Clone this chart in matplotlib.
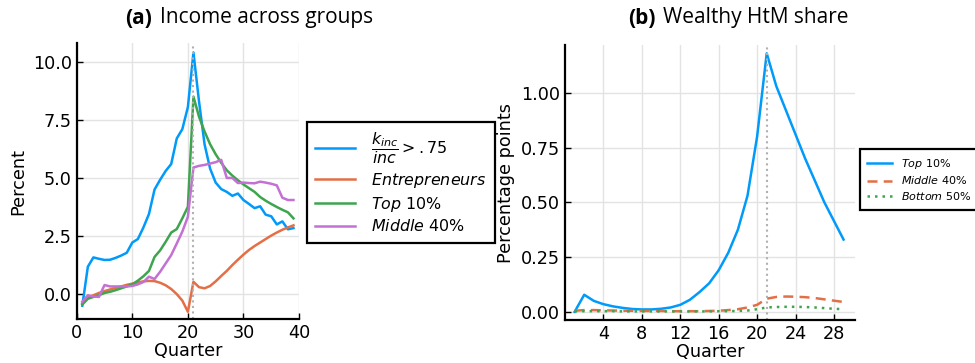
import matplotlib
matplotlib.use("Agg")
import matplotlib.pyplot as plt
import numpy as np

plt.rcParams['font.family'] = ['DejaVu Sans']
plt.rcParams['mathtext.fontset'] = 'dejavusans'

# (a) income responses by group, quarters 1..39
quarters_a = np.arange(1, 40)
k_share = [-0.5, 1.18, 1.58, 1.52, 1.47, 1.48, 1.56, 1.66, 1.78, 2.22, 2.37, 2.87, 3.45, 4.5, 4.92,
           5.3, 5.6, 6.7, 7.1, 8.05, 10.4, 8.3, 6.45, 5.4, 4.8, 4.52, 4.4, 4.23, 4.33, 4.05,
           3.88, 3.7, 3.78, 3.42, 3.35, 3.0, 3.13, 2.79, 2.84]
entrepreneurs = [-0.4, -0.15, -0.05, 0.05, 0.13, 0.2, 0.27, 0.33, 0.4, 0.45, 0.5, 0.55, 0.57,
                 0.56, 0.49, 0.38, 0.22, 0.0, -0.28, -0.76, 0.53, 0.3, 0.25, 0.35, 0.55, 0.78,
                 1.0, 1.25, 1.48, 1.7, 1.9, 2.07, 2.22, 2.37, 2.52, 2.65, 2.77, 2.87, 2.96]
top10_a = [-0.45, -0.2, -0.12, -0.05, 0.05, 0.1, 0.17, 0.25, 0.33, 0.42, 0.58, 0.77, 1.0, 1.6,
           1.88, 2.25, 2.65, 2.8, 3.26, 3.76, 8.5, 7.64, 7.0, 6.45, 6.02, 5.65, 5.33, 5.1,
           4.9, 4.72, 4.56, 4.4, 4.18, 4.02, 3.88, 3.75, 3.63, 3.52, 3.26]
middle40_a = [-0.33, -0.05, -0.1, -0.12, 0.39, 0.33, 0.33, 0.33, 0.33, 0.35, 0.42, 0.52, 0.75,
              0.65, 0.96, 1.32, 1.68, 2.18, 2.69, 3.33, 5.45, 5.52, 5.56, 5.62, 5.68, 5.78,
              5.0, 5.0, 4.78, 4.8, 4.78, 4.77, 4.84, 4.8, 4.75, 4.68, 4.15, 4.05, 4.05]

# (b) wealthy hand-to-mouth share, quarters 1..29
quarters_b = np.arange(1, 30)
top10_b = [0.0, 0.078, 0.05, 0.035, 0.025, 0.018, 0.013, 0.011, 0.011, 0.014, 0.02, 0.032,
           0.055, 0.09, 0.13, 0.19, 0.27, 0.375, 0.53, 0.8, 1.18, 1.03, 0.92, 0.81, 0.7,
           0.6, 0.5, 0.415, 0.33]
middle40_b = [0.005, 0.008, 0.008, 0.007, 0.006, 0.005, 0.005, 0.004, 0.004, 0.004, 0.003,
              0.003, 0.003, 0.003, 0.004, 0.005, 0.008, 0.012, 0.02, 0.032, 0.06, 0.068,
              0.07, 0.069, 0.067, 0.063, 0.057, 0.051, 0.045]
bottom50_b = [0.002, 0.003, 0.003, 0.003, 0.003, 0.002, 0.002, 0.002, 0.002, 0.002, 0.002,
              0.002, 0.002, 0.002, 0.002, 0.003, 0.003, 0.004, 0.006, 0.012, 0.02, 0.022,
              0.023, 0.023, 0.022, 0.02, 0.017, 0.014, 0.012]

shock_q = 21
blue, orange, green, purple = '#009AFA', '#E36F47', '#3EA44E', '#C371D2'

fig = plt.figure(figsize=(9.75, 3.63), dpi=100)
ax1 = fig.add_axes([0.0787, 0.120, 0.228, 0.761])
ax2 = fig.add_axes([0.5795, 0.118, 0.2975, 0.758])


def style(ax):
    for s in ['top', 'right']:
        ax.spines[s].set_visible(False)
    for s in ['left', 'bottom']:
        ax.spines[s].set_linewidth(1.6)
    ax.grid(True, color='#e3e3e3', linewidth=1.0)
    ax.set_axisbelow(True)
    ax.tick_params(direction='in', length=4, width=1.0, labelsize=12.7)


lw = 1.8
ax1.plot(quarters_a, k_share, color=blue, lw=lw, label=r'$\dfrac{k_{inc}}{inc} > .75$')
ax1.plot(quarters_a, entrepreneurs, color=orange, lw=lw, label=r'$\mathit{Entrepreneurs}$')
ax1.plot(quarters_a, top10_a, color=green, lw=lw, label=r'$\mathit{Top}$ 10%')
ax1.plot(quarters_a, middle40_a, color=purple, lw=lw, label=r'$\mathit{Middle}$ 40%')
ax1.axvline(shock_q, color='#b0b0b0', lw=1.5, ls=':')
ax1.set_xlim(0, 40)
ax1.set_ylim(-1.09, 10.8)
ax1.set_xticks([0, 10, 20, 30, 40])
ax1.set_yticks([0, 2.5, 5, 7.5, 10])
ax1.set_yticklabels(['0.0', '2.5', '5.0', '7.5', '10.0'])
ax1.set_xlabel('Quarter', fontsize=12.7, labelpad=0)
ax1.set_ylabel('Percent', fontsize=12.7)
style(ax1)

ax2.plot(quarters_b, top10_b, color=blue, lw=lw, label=r'$\mathit{Top}$ 10%')
ax2.plot(quarters_b, middle40_b, color=orange, lw=lw, ls=(0, (4, 2.5)), label=r'$\mathit{Middle}$ 40%')
ax2.plot(quarters_b, bottom50_b, color=green, lw=lw, ls=(0, (1, 2)), label=r'$\mathit{Bottom}$ 50%')
ax2.axvline(shock_q, color='#b0b0b0', lw=1.5, ls=':')
ax2.set_xlim(0, 30.2)
ax2.set_ylim(-0.038, 1.218)
ax2.set_xticks([4, 8, 12, 16, 20, 24, 28])
ax2.set_yticks([0, 0.25, 0.5, 0.75, 1.0])
ax2.set_yticklabels(['0.00', '0.25', '0.50', '0.75', '1.00'])
ax2.set_xlabel('Quarter', fontsize=12.7, labelpad=0)
ax2.set_ylabel('Percentage points', fontsize=12.7)
style(ax2)

leg1 = ax1.legend(loc='upper left', bbox_to_anchor=(306.7 / 975, 1 - 121.7 / 363),
                  bbox_transform=fig.transFigure, fontsize=11.4, fancybox=False,
                  edgecolor='black', framealpha=1, handlelength=2.5, handletextpad=1.0,
                  borderpad=0.55, labelspacing=0.3, borderaxespad=0)
leg1.get_frame().set_linewidth(1.6)
leg2 = ax2.legend(loc='upper left', bbox_to_anchor=(860 / 975, 1 - 149.3 / 363),
                  bbox_transform=fig.transFigure, fontsize=8, fancybox=False,
                  edgecolor='black', framealpha=1, handlelength=2.2, borderpad=0.65,
                  labelspacing=0.35, borderaxespad=0)
leg2.get_frame().set_linewidth(1.6)

title_font = ['Open Sans', 'DejaVu Sans']
fig.text(125 / 975, 1 - 18 / 363, '(a)', fontsize=15, fontweight='bold', family=title_font, va='center')
fig.text(160 / 975, 1 - 18 / 363, 'Income across groups', fontsize=15, family=title_font, va='center')
fig.text(628 / 975, 1 - 18 / 363, '(b)', fontsize=15, fontweight='bold', family=title_font, va='center')
fig.text(663 / 975, 1 - 18 / 363, 'Wealthy HtM share', fontsize=15, family=title_font, va='center')

fig.savefig('out.png', dpi=100)
